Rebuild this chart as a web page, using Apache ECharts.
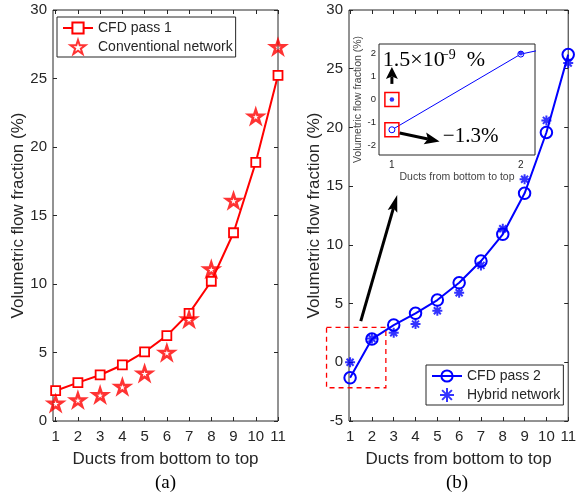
<!DOCTYPE html>
<html><head><meta charset="utf-8">
<script src="https://cdn.jsdelivr.net/npm/echarts@6/dist/echarts.min.js"></script>
<style>html,body{margin:0;padding:0;background:#fff}#c{width:579px;height:495px}</style>
</head><body><div id="c"></div>
<script>
// ---- data ----
const ducts = [1, 2, 3, 4, 5, 6, 7, 8, 9, 10, 11];
const cfdPass1 = [2.21, 2.80, 3.36, 4.09, 5.04, 6.23, 7.86, 10.2, 13.74, 18.88, 25.23];
const conventionalNetwork = [1.29, 1.53, 1.9, 2.5, 3.48, 4.99, 7.43, 11.08, 16.09, 22.23, 27.3];
const cfdPass2 = [-1.32, 1.98, 3.17, 4.17, 5.3, 6.77, 8.62, 10.9, 14.39, 19.57, 26.2];
const hybridNetwork = [0, 2.02, 2.51, 3.25, 4.39, 5.92, 8.25, 11.37, 15.58, 20.6, 25.48];
const xTickValues = [1, 2, 3, 4, 5, 6, 7, 8, 9, 10, 11];
const yTicksA = [0, 5, 10, 15, 20, 25, 30];
const yTicksB = [-5, 0, 5, 10, 15, 20, 25, 30];
const insetXTicks = [1, 2];
const insetYTicks = [-2, -1, 0, 1, 2];
const xTitle = 'Ducts from bottom to top';
const yTitle = 'Volumetric flow fraction (%)';

const pairs = arr => ducts.map((d, i) => [d, arr[i]]);
const AX = '#262626';
const FONT = '"Liberation Sans", Arial, sans-serif';
const SERIF = '"Liberation Serif", "Times New Roman", serif';
const STAR = 'path://M50,0L61.2,34.5L97.6,34.5L68.2,55.9L79.4,90.5L50,69.1L20.6,90.5L31.8,55.9L2.4,34.5L38.8,34.5Z';
const AST = 'path://M50,0L50,100M0,50L100,50M15,15L85,85M15,85L85,15';

function ax(grid, pos, min, max, ticks, main, fs, tl, margin, extra) {
  return Object.assign({
    type: 'value', gridIndex: grid, position: pos, min: min, max: max,
    axisLine: { show: false, onZero: false },
    splitLine: { show: false },
    axisTick: { show: true, inside: true, length: tl, customValues: ticks, lineStyle: { color: AX, width: 1 } },
    axisLabel: { show: main, customValues: ticks, fontSize: fs, color: AX, fontFamily: FONT, margin: margin }
  }, extra || {});
}

const chart = echarts.init(document.getElementById('c'), null, { renderer: 'canvas' });
const mainName = { nameLocation: 'middle', nameTextStyle: { fontSize: 17, color: AX, fontFamily: FONT } };
const insetName = { nameLocation: 'middle', nameTextStyle: { fontSize: 10.5, color: '#444', fontFamily: FONT } };
const option = {
  animation: false,
  backgroundColor: '#fff',
  grid: [
    { left: 53, top: 10, width: 225, height: 411, show: true, borderColor: AX, borderWidth: 1, backgroundColor: 'transparent' },
    { left: 349, top: 10, width: 224.5, height: 411, show: true, borderColor: AX, borderWidth: 1, backgroundColor: 'transparent' },
    { left: 379, top: 44, width: 156, height: 111, show: true, borderColor: AX, borderWidth: 1, backgroundColor: '#fff', z: 5 }
  ],
  xAxis: [
    ax(0, 'bottom', 0.88, 11, xTickValues, true, 15, 4, 8, Object.assign({ name: xTitle, nameGap: 30 }, mainName)),
    ax(0, 'top', 0.88, 11, xTickValues, false, 15, 4, 8),
    ax(1, 'bottom', 0.95, 11, xTickValues, true, 15, 4, 8, Object.assign({ name: xTitle, nameGap: 30 }, mainName)),
    ax(1, 'top', 0.95, 11, xTickValues, false, 15, 4, 8),
    ax(2, 'bottom', 0.9, 2.11, insetXTicks, true, 10, 3, 5, Object.assign({ name: xTitle, nameGap: 17 }, insetName)),
    ax(2, 'top', 0.9, 2.11, insetXTicks, false, 10, 3, 5)
  ],
  yAxis: [
    ax(0, 'left', 0, 30, yTicksA, true, 15, 4, 6, Object.assign({ name: yTitle, nameGap: 25 }, mainName)),
    ax(0, 'right', 0, 30, yTicksA, false, 15, 4, 6),
    ax(1, 'left', -5, 30, yTicksB, true, 15, 4, 6, Object.assign({ name: yTitle, nameGap: 26 }, mainName)),
    ax(1, 'right', -5, 30, yTicksB, false, 15, 4, 6),
    ax(2, 'left', -2.42, 2.42, insetYTicks, true, 9.5, 3, 3, Object.assign({ name: yTitle, nameGap: 13 }, insetName)),
    ax(2, 'right', -2.42, 2.42, insetYTicks, false, 9.5, 3, 3)
  ],
  legend: [
    { data: ['CFD pass 1', 'Conventional network'], orient: 'vertical', left: 57, top: 17,
      padding: [4, 3, 2, 5], itemGap: 4, itemWidth: 30, itemHeight: 14, borderColor: AX, borderWidth: 1, backgroundColor: '#fff',
      textStyle: { fontSize: 14, color: AX, fontFamily: FONT }, selectedMode: false },
    { data: ['CFD pass 2', 'Hybrid network'], orient: 'vertical', left: 426, top: 365,
      padding: [4, 3, 2, 5], itemGap: 4, itemWidth: 30, itemHeight: 14, borderColor: AX, borderWidth: 1, backgroundColor: '#fff',
      textStyle: { fontSize: 14, color: AX, fontFamily: FONT }, selectedMode: false }
  ],
  series: [
    { name: 'CFD pass 1', type: 'line', xAxisIndex: 0, yAxisIndex: 0, data: pairs(cfdPass1),
      symbol: 'rect', symbolSize: 9, showAllSymbol: true,
      lineStyle: { color: '#ff0000', width: 2 }, itemStyle: { color: '#fff', borderColor: '#ff0000', borderWidth: 1.8 },
      emphasis: { disabled: true }, z: 3 },
    { name: 'Conventional network', type: 'scatter', xAxisIndex: 0, yAxisIndex: 0, data: pairs(conventionalNetwork),
      symbol: STAR, symbolSize: 14, symbolKeepAspect: true,
      itemStyle: { color: 'rgba(255,255,255,0)', borderColor: '#ff0000', borderWidth: 2.6 },
      emphasis: { disabled: true }, z: 4 },
    { name: 'CFD pass 2', type: 'line', xAxisIndex: 2, yAxisIndex: 2, data: pairs(cfdPass2),
      symbol: 'circle', symbolSize: 11.5, showAllSymbol: true, clip: false,
      lineStyle: { color: '#0000ff', width: 2 }, itemStyle: { color: 'rgba(255,255,255,0)', borderColor: '#0000ff', borderWidth: 2 },
      emphasis: { disabled: true }, z: 3 },
    { name: 'Hybrid network', type: 'scatter', xAxisIndex: 2, yAxisIndex: 2, data: pairs(hybridNetwork),
      symbol: AST, symbolSize: 10,
      itemStyle: { color: 'rgba(0,0,0,0)', borderColor: '#0000ff', borderWidth: 2 },
      emphasis: { disabled: true }, z: 4 },
    { name: 'inset CFD', type: 'line', xAxisIndex: 4, yAxisIndex: 4, data: pairs(cfdPass2),
      symbol: 'circle', symbolSize: 6, showAllSymbol: true, clip: true,
      lineStyle: { color: '#0000ff', width: 1 }, itemStyle: { color: '#fff', borderColor: '#0000ff', borderWidth: 1 },
      emphasis: { disabled: true }, z: 10 },
    { name: 'inset hybrid', type: 'scatter', xAxisIndex: 4, yAxisIndex: 4, data: pairs(hybridNetwork),
      symbol: 'circle', symbolSize: 4.5, clip: true,
      itemStyle: { color: '#0000ff' },
      emphasis: { disabled: true }, z: 11 }
  ]
};
chart.setOption(option);

// ---- annotations ----
const P = (g, x, y) => chart.convertToPixel({ xAxisIndex: g * 2, yAxisIndex: g * 2 }, [x, y]);
function arrow(t, h, lw, headLen, headHalf) {
  const dx = h[0] - t[0], dy = h[1] - t[1], L = Math.hypot(dx, dy), ux = dx / L, uy = dy / L;
  const bx = h[0] - ux * headLen * 0.8, by = h[1] - uy * headLen * 0.8;
  const cx = h[0] - ux * headLen, cy = h[1] - uy * headLen;
  return [
    { type: 'line', z: 100, shape: { x1: t[0], y1: t[1], x2: bx, y2: by }, style: { stroke: '#000', lineWidth: lw } },
    { type: 'polygon', z: 101, shape: { points: [[h[0], h[1]], [cx - uy * headHalf, cy + ux * headHalf], [bx, by], [cx + uy * headHalf, cy - ux * headHalf]] }, style: { fill: '#000' } }
  ];
}
const g = [];
const d1 = P(1, -0.08, 2.97), d2 = P(1, 2.64, -2.17);
g.push({ type: 'rect', z: 100, shape: { x: d1[0], y: d1[1], width: d2[0] - d1[0], height: d2[1] - d1[1] },
  style: { fill: 'none', stroke: '#ff0000', lineWidth: 1.3, lineDash: [5, 4] } });
g.push(...arrow(P(1, 1.49, 3.51), P(1, 3.16, 14.24), 3, 17, 5));
[[1, hybridNetwork[0]], [1, cfdPass2[0]]].forEach(p => {
  const c = P(2, p[0], p[1]);
  g.push({ type: 'rect', z: 100, shape: { x: c[0] - 7, y: c[1] - 7, width: 14, height: 14 }, style: { fill: 'none', stroke: '#ff0000', lineWidth: 1.5 } });
});
g.push(...arrow(P(2, 1.0, 0.68), P(2, 1.0, 1.42), 3, 12, 6));
g.push(...arrow(P(2, 1.06, -1.46), P(2, 1.37, -1.83), 3, 15, 6));
const t1 = P(2, 0.93, 1.72);
g.push({ type: 'text', z: 102, style: { text: '1.5×10', x: t1[0], y: t1[1], font: '22px ' + SERIF, fill: '#000', align: 'left', verticalAlign: 'middle' } });
const t2 = P(2, 1.38, 2.25);
g.push({ type: 'text', z: 102, style: { text: '−9', x: t2[0], y: t2[1], font: '14px ' + SERIF, fill: '#000', align: 'left', verticalAlign: 'top' } });
const t3 = P(2, 1.58, 1.72);
g.push({ type: 'text', z: 102, style: { text: '%', x: t3[0], y: t3[1], font: '22px ' + SERIF, fill: '#000', align: 'left', verticalAlign: 'middle' } });
const t4 = P(2, 1.395, -1.6);
g.push({ type: 'text', z: 102, style: { text: '−1.3%', x: t4[0], y: t4[1], font: '21px ' + SERIF, fill: '#000', align: 'left', verticalAlign: 'middle' } });
g.push({ type: 'text', z: 102, style: { text: '(a)', x: 165.5, y: 483, font: '19px ' + SERIF, fill: '#000', align: 'center', verticalAlign: 'middle' } });
g.push({ type: 'text', z: 102, style: { text: '(b)', x: 457, y: 483, font: '19px ' + SERIF, fill: '#000', align: 'center', verticalAlign: 'middle' } });
chart.setOption({ graphic: g });
</script></body></html>
